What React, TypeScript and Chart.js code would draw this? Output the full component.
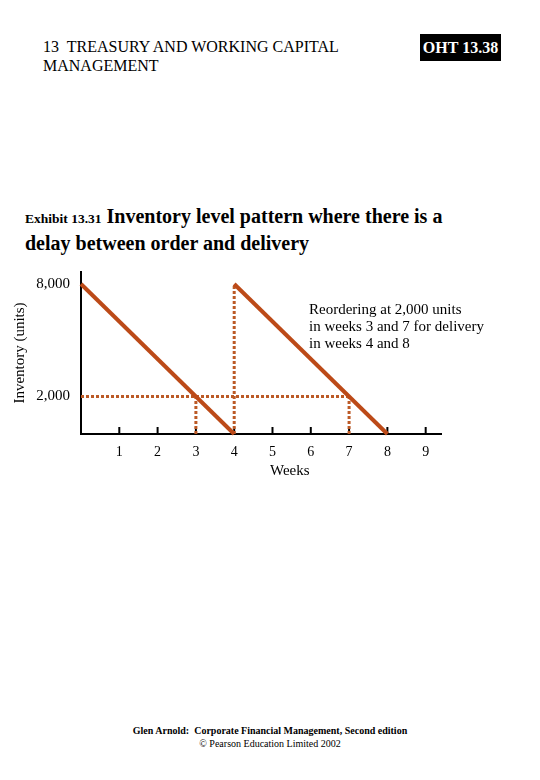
import { useEffect, useRef } from "react";
import { Chart, registerables, Plugin } from "chart.js";

Chart.register(...registerables);

// Inventory cycles: stock starts full and runs down to zero
const cycleStartWeeks = [0, 4];
const cycleEndWeeks = [4, 8];
const maxStock = 8000;

// Reorder point and the weeks orders are placed / delivered
const reorderLevel = 2000;
const reorderWeeks = [3, 7];
const deliveryWeek = 4;

const weekTicks = [1, 2, 3, 4, 5, 6, 7, 8, 9];
const stockTicks = [2000, 8000];

const SOLID = "#BC4A18";
const DOTTED = "#BC5A26";
const SERIF = "'Liberation Serif', 'Times New Roman', serif";

// tick marks pointing up into the plot, as in the original
const innerTicks: Plugin = {
  id: "innerTicks",
  beforeDatasetsDraw(chart) {
    const { ctx, chartArea, scales } = chart;
    const x = scales.x;
    ctx.save();
    ctx.strokeStyle = "#000";
    ctx.lineWidth = 2;
    weekTicks.forEach((w) => {
      const px = x.getPixelForValue(w);
      ctx.beginPath();
      ctx.moveTo(px, chartArea.bottom);
      ctx.lineTo(px, chartArea.bottom - 7);
      ctx.stroke();
    });
    ctx.restore();
  },
};

function InventoryChart() {
  const chartRef = useRef<HTMLCanvasElement>(null);
  const chartInstance = useRef<Chart | null>(null);

  useEffect(() => {
    if (!chartRef.current) return;
    if (chartInstance.current) chartInstance.current.destroy();
    const ctx = chartRef.current.getContext("2d");
    if (!ctx) return;

    const solidSets = cycleStartWeeks.map((start, i) => ({
      data: [
        { x: start, y: maxStock },
        { x: cycleEndWeeks[i], y: 0 },
      ],
      borderColor: SOLID,
      borderWidth: 4,
      pointRadius: 0,
      clip: 6,
    }));

    const dotted = {
      borderColor: DOTTED,
      borderWidth: 3,
      borderDash: [3, 2],
      pointRadius: 0,
      clip: 6,
    };

    const dottedSets = [
      { ...dotted, data: [{ x: 0, y: reorderLevel }, { x: reorderWeeks[1], y: reorderLevel }] },
      ...reorderWeeks.map((w) => ({
        ...dotted,
        data: [{ x: w, y: 0 }, { x: w, y: reorderLevel }],
      })),
      { ...dotted, data: [{ x: deliveryWeek, y: 0 }, { x: deliveryWeek, y: maxStock }] },
    ];

    chartInstance.current = new Chart(ctx, {
      type: "line",
      data: { datasets: [...solidSets, ...dottedSets] as any },
      plugins: [innerTicks],
      options: {
        animation: false,
        responsive: true,
        maintainAspectRatio: false,
        layout: { padding: { top: 10, right: 29, left: 0, bottom: 0 } },
        plugins: { legend: { display: false }, tooltip: { enabled: false } },
        scales: {
          x: {
            type: "linear",
            min: 0,
            max: 9.4,
            grid: { display: false, drawTicks: false },
            border: { color: "#000", width: 2 },
            afterBuildTicks: (scale) => {
              scale.ticks = weekTicks.map((v) => ({ value: v }));
            },
            afterFit: (scale) => {
              scale.height = 48;
              scale.paddingLeft = 0;
              scale.paddingRight = 0;
            },
            ticks: {
              color: "#000",
              padding: 10,
              font: { family: SERIF, size: 14 },
            },
          },
          y: {
            type: "linear",
            min: 0,
            max: 8640,
            grid: { display: false, drawTicks: false },
            border: { color: "#000", width: 2 },
            afterBuildTicks: (scale) => {
              scale.ticks = stockTicks.map((v) => ({ value: v }));
            },
            afterFit: (scale) => {
              scale.width = 81;
              scale.paddingTop = 0;
              scale.paddingBottom = 0;
            },
            ticks: {
              color: "#000",
              padding: 11,
              font: { family: SERIF, size: 15 },
              callback: (v) => Number(v).toLocaleString("en-US"),
            },
            title: {
              display: true,
              text: "Inventory (units)",
              color: "#000",
              font: { family: SERIF, size: 15 },
              padding: { top: 11, bottom: 0 },
            },
          },
        },
      },
    });

    return () => {
      if (chartInstance.current) {
        chartInstance.current.destroy();
        chartInstance.current = null;
      }
    };
  }, []);

  return <canvas ref={chartRef} />;
}

export default function App() {
  return (
    <div
      style={{
        position: "absolute",
        left: 0,
        top: 0,
        width: 540,
        height: 780,
        background: "#fff",
        fontFamily: SERIF,
        color: "#000",
      }}
    >
      <div style={{ position: "absolute", left: 43, top: 37, fontSize: 16, lineHeight: "19px" }}>
        13&nbsp; TREASURY AND WORKING CAPITAL
        <br />
        MANAGEMENT
      </div>
      <div
        style={{
          position: "absolute",
          left: 420,
          top: 34,
          width: 81,
          height: 27,
          background: "#000",
          color: "#fff",
          fontWeight: "bold",
          fontSize: 16,
          lineHeight: "27px",
          textAlign: "center",
        }}
      >
        OHT 13.38
      </div>
      <div
        style={{
          position: "absolute",
          left: 25,
          top: 204,
          width: 480,
          fontWeight: "bold",
          fontSize: 20,
          lineHeight: "24px",
        }}
      >
        <span style={{ fontSize: 13.5 }}>Exhibit 13.31</span> Inventory level pattern where there is a
        <br />
        delay between order and delivery
      </div>
      <div style={{ position: "absolute", left: 0, top: 262, width: 470, height: 220 }}>
        <InventoryChart />
      </div>
      <div
        style={{
          position: "absolute",
          left: 309,
          top: 301,
          fontSize: 15,
          lineHeight: "17px",
        }}
      >
        Reordering at 2,000 units
        <br />
        in weeks 3 and 7 for delivery
        <br />
        in weeks 4 and 8
      </div>
      <div style={{ position: "absolute", left: 270, top: 462, fontSize: 15, lineHeight: "17px" }}>
        Weeks
      </div>
      <div
        style={{
          position: "absolute",
          left: 0,
          top: 724,
          width: 540,
          textAlign: "center",
          fontSize: 10,
          lineHeight: "13px",
        }}
      >
        <b>Glen Arnold: &nbsp;Corporate Financial Management, Second edition</b>
        <br />© Pearson Education Limited 2002
      </div>
    </div>
  );
}
